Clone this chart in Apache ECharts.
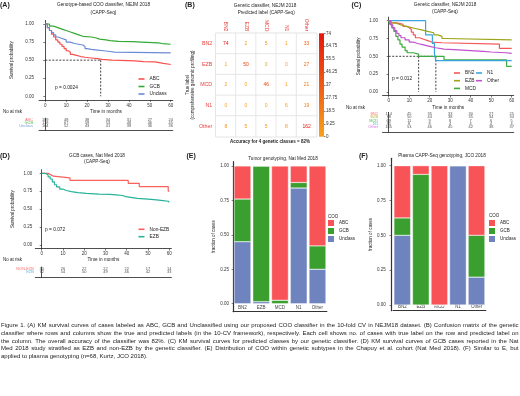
<!DOCTYPE html>
<html><head><meta charset="utf-8">
<script src="https://cdn.jsdelivr.net/npm/echarts@6/dist/echarts.min.js"></script>
<style>html,body{margin:0;padding:0;background:#fff}#c{width:520px;height:396px}</style>
</head><body><div id="c"></div>
<script>
// ================= DATA =================
const kmTicks = [0, 10, 20, 30, 40, 50, 60];
const survTicks = [0, 0.25, 0.5, 0.75, 1];
const riskTimes = [0, 10, 20, 30, 40, 50, 60];

// Panel A: COO classifier KM curves
const aGroups = ['ABC', 'GCB', 'Unclass'];
const aABC_t = [0,1,2,3,4,5,6,7,8,9,10,11,12,13,15,17,19,22,25,27,32,43,47,52.5,56.5,60];
const aABC_s = [1,0.95,0.91,0.86,0.82,0.78,0.75,0.72,0.69,0.66,0.63,0.61,0.58,0.565,0.55,0.54,0.53,0.52,0.51,0.50,0.49,0.48,0.475,0.455,0.44,0.44];
const aGCB_t = [0,2,4,6,8,10,12,14,16,18,22,24,26,29,31,35,42,46,54,56,60];
const aGCB_s = [1,0.97,0.95,0.93,0.91,0.89,0.87,0.85,0.83,0.82,0.81,0.79,0.78,0.77,0.76,0.755,0.75,0.74,0.73,0.72,0.72];
const aUnc_t = [0,1,2,3,4,5,6,8,10,12,14,16,18,19,20,22,25,28,31,33,60];
const aUnc_s = [1,0.95,0.91,0.88,0.85,0.82,0.80,0.78,0.75,0.73,0.72,0.71,0.69,0.66,0.65,0.64,0.63,0.62,0.61,0.60,0.60];
const aMedians = [26.5];
const aRiskABC = [189, 48, 38, 34, 31, 27, 24];
const aRiskGCB = [118, 67, 59, 53, 48, 46, 45];
const aRiskUnc = [164, 52, 43, 41, 39, 36, 36];

// Panel B: confusion matrix
const bLabels = ['BN2', 'EZB', 'MCD', 'N1', 'Other'];
const bMatrix = [
  [74, 2, 5, 1, 33],
  [1, 50, 0, 0, 27],
  [2, 0, 46, 1, 21],
  [0, 0, 0, 6, 19],
  [8, 5, 5, 8, 162]
];
const bScaleMin = 0, bScaleMax = 74, bScaleStep = 9.25;

// Panel C: genetic classifier KM curves
const cGroups = ['BN2', 'EZB', 'MCD', 'N1', 'Other'];
const cBN2_t = [0,1,4,7,9,10,11,12,13,15,17,19,21,26,54,60];
const cBN2_s = [1,0.97,0.95,0.92,0.90,0.88,0.84,0.80,0.76,0.74,0.72,0.70,0.69,0.67,0.61,0.61];
const cEZB_t = [0,1,3,5,7,10,13,16,19,22,24,26,28,60];
const cEZB_s = [1,0.97,0.95,0.93,0.91,0.89,0.87,0.85,0.83,0.80,0.78,0.75,0.73,0.73];
const cMCD_t = [0,0.5,1.5,2.5,3.5,4.5,5.5,6.5,8,9,12,14.6,27,57.5,60];
const cMCD_s = [1,0.95,0.90,0.85,0.78,0.73,0.67,0.63,0.58,0.55,0.53,0.50,0.45,0.36,0.36];
const cN1_t = [0,18,21.3,22.3,23,60];
const cN1_s = [1,0.80,0.68,0.54,0.44,0.44];
const cOth_t = [0,1,2,3,4,5,6,8,10,12,14,17,20,23,27,34,40,46,50,57,60];
const cOth_s = [1,0.94,0.90,0.86,0.82,0.79,0.76,0.73,0.70,0.68,0.66,0.64,0.62,0.60,0.59,0.58,0.57,0.56,0.55,0.54,0.54];
const cMedians = [14.6, 23];
const cRiskBN2 = [114, 45, 35, 33, 30, 27, 25];
const cRiskEZB = [78, 50, 44, 38, 35, 34, 34];
const cRiskMCD = [69, 11, 9, 8, 7, 6, 5];
const cRiskN1 = [35, 8, 8, 4, 4, 4, 4];
const cRiskOth = [185, 53, 46, 45, 42, 38, 37];

// Panel D: GCB cases KM curves
const dGroups = ['Non-EZB', 'EZB'];
const dRiskGroups = ['NON-EZB', 'EZB'];
const dNon_t = [0,3,4,5.5,13.3,40.7,45.9,59.5,60];
const dNon_s = [1,0.985,0.96,0.935,0.90,0.86,0.815,0.75,0.75];
const dEZB_t = [0,1.5,3,4,5,6,7,8.5,10,11.5,14,17,21,27,32,35,38,39.5,45,50,54,57,59.5,60];
const dEZB_s = [1,0.98,0.95,0.92,0.88,0.84,0.81,0.78,0.76,0.745,0.73,0.72,0.71,0.705,0.70,0.69,0.675,0.65,0.64,0.63,0.62,0.61,0.595,0.595];
const dRiskNon = [30, 26, 22, 22, 22, 17, 14];
const dRiskEZB = [72, 54, 50, 49, 46, 42, 33];

// Panels E and F: COO fraction per genetic subtype
const subtypes = ['BN2', 'EZB', 'MCD', 'N1', 'Other'];
const eUnclass = [0.45, 0.015, 0, 0.84, 0.25];
const eGCB = [0.31, 0.985, 0.025, 0.04, 0.17];
const eABC = [0.24, 0, 0.975, 0.12, 0.58];
const fUnclass = [0.5, 0, 0, 1, 0.2];
const fGCB = [0.125, 0.9375, 0, 0, 0.3];
const fABC = [0.375, 0.0625, 1, 0, 0.5];
const cooNames = ['ABC', 'GCB', 'Unclass'];

const captionLines = [
  'Figure 1. (A) KM survival curves of cases labeled as ABC, GCB and Unclassified using our proposed COO classifier in the 10-fold CV in NEJM18 dataset. (B) Confusion matrix of the genetic',
  'classifier where rows and columns show the true and predicted labels (in the 10-CV framework), respectively. Each cell shows no. of cases with true label on the row and predicted label on',
  'the column. The overall accuracy of the classifier was 82%. (C) KM survival curves for predicted classes by our genetic classifier. (D) KM survival curves of GCB cases reported in the Nat',
  'Med 2018 study stratified as EZB and non-EZB by the genetic classifier. (E) Distribution of COO within genetic subtypes in the Chapuy et al. cohort (Nat Med 2018). (F) Similar to E, but',
  'applied to plasma genotyping (n=68, Kurtz, JCO 2018).'
];

// ================= STYLE =================
const FONT = '"Liberation Sans", Arial, sans-serif';
const colA = { ABC: '#F8514F', GCB: '#33AA33', Unclass: '#6A8BD6' };
const colAlab = { ABC: '#FF6F6F', GCB: '#44BB44', Unclass: '#7C9BE2' };
const colC = { BN2: '#F5575A', EZB: '#9EA51A', MCD: '#3DAA3D', N1: '#3BA5E0', Other: '#C24FCC' };
const colClab = { BN2: '#FF7A7A', EZB: '#B5B52A', MCD: '#4CBB4C', N1: '#4DB4EA', Other: '#D06BDA' };
const colD = { 'Non-EZB': '#F8615D', 'EZB': '#27B39A' };
const colDlab = { 'NON-EZB': '#FF6F6F', 'EZB': '#5CB8E0' };
const colCOO = { ABC: '#F85457', GCB: '#3A9F2E', Unclass: '#6F83BF' };
const heatLow = '#F7A11A', heatHigh = '#E8150E';
const AX = '#222';

function heatColor(v) {
  const t = Math.max(0, Math.min(1, (v - bScaleMin) / (bScaleMax - bScaleMin)));
  const a = [0xF7, 0xA1, 0x1A], b = [0xE8, 0x15, 0x0E];
  const c = a.map((x, i) => Math.round(x + (b[i] - x) * t));
  return 'rgb(' + c.join(',') + ')';
}

// ================= LAYOUT =================
const grids = [
  { left: 39, top: 20.4, width: 133.8, height: 79.5 },      // 0 A plot
  { left: 39, top: 118.2, width: 133.8, height: 12 },       // 1 A risk
  { left: 215.7, top: 33.3, width: 101, height: 103.4, show: true, borderColor: '#d4d4d4', borderWidth: 0.8 }, // 2 B heat
  { left: 319, top: 33.3, width: 5, height: 103.4 },         // 3 B colorbar
  { left: 382.55, top: 17.1, width: 131.2, height: 78.4 },   // 4 C plot
  { left: 382.55, top: 112.35, width: 131.2, height: 19.8 }, // 5 C risk
  { left: 35.3, top: 169.7, width: 136.1, height: 78.9 },    // 6 D plot
  { left: 35.3, top: 267, width: 136.1, height: 10.2 },      // 7 D risk
  { left: 233.1, top: 161.7, width: 93.75, height: 150 },    // 8 E
  { left: 393.0, top: 158.3, width: 92.8, height: 152.4 }    // 9 F
].map(g => Object.assign({ containLabel: false, outerBoundsMode: 'none' }, g));

const tickFont = { fontSize: 4.5, color: '#333', fontFamily: FONT };

function kmX(gi, margin, nameGap) {
  return {
    type: 'value', gridIndex: gi, min: -3, max: 61,
    axisLine: { show: true, onZero: false, lineStyle: { color: AX, width: 0.8 } },
    axisTick: { show: true, length: 2, customValues: kmTicks, lineStyle: { color: AX, width: 0.6 } },
    axisLabel: Object.assign({ customValues: kmTicks, margin }, tickFont),
    splitLine: { show: false },
    name: 'Time in months', nameLocation: 'middle', nameGap,
    nameTextStyle: { fontSize: 4.7, color: '#222', fontFamily: FONT }
  };
}
function kmY(gi, margin, nameGap) {
  return {
    type: 'value', gridIndex: gi, min: -0.05, max: 1.05,
    axisLine: { show: true, lineStyle: { color: AX, width: 0.8 } },
    axisTick: { show: true, length: 2, customValues: survTicks, lineStyle: { color: AX, width: 0.6 } },
    axisLabel: Object.assign({ customValues: survTicks, margin, formatter: v => (+v).toFixed(2) }, tickFont),
    splitLine: { show: false },
    name: 'Survival probability', nameLocation: 'middle', nameGap,
    nameTextStyle: { fontSize: 4.5, color: '#222', fontFamily: FONT }
  };
}
function riskX(gi) {
  return {
    type: 'value', gridIndex: gi, min: -3, max: 61,
    axisLine: { show: true, onZero: false, lineStyle: { color: AX, width: 0.8 } },
    axisTick: { show: false }, axisLabel: { show: false }, splitLine: { show: false }
  };
}
function riskY(gi, groups, colors, margin) {
  return {
    type: 'category', gridIndex: gi, inverse: true,
    data: groups.map(g => ({ value: g, textStyle: { color: colors[g] } })).concat(['']),
    axisLine: { show: true, lineStyle: { color: AX, width: 0.8 } },
    axisTick: { show: false },
    axisLabel: { fontSize: 3.9, fontFamily: FONT, margin, interval: 0 },
    splitLine: { show: false }
  };
}
function fracY(gi, min, max, margin, nameGap, offset) {
  return {
    type: 'value', gridIndex: gi, min, max, offset: offset || 0,
    axisLine: { show: true, lineStyle: { color: '#333', width: 1.2 } },
    axisTick: { show: true, length: 1.5, customValues: survTicks, lineStyle: { color: '#333', width: 0.6 } },
    axisLabel: Object.assign({ customValues: survTicks, margin, formatter: v => (+v).toFixed(2) }, tickFont),
    splitLine: { show: false },
    name: 'fraction of cases', nameLocation: 'middle', nameGap,
    nameTextStyle: { fontSize: 4.5, color: '#222', fontFamily: FONT }
  };
}
function fracX(gi) {
  return {
    type: 'category', gridIndex: gi, data: subtypes,
    axisLine: { show: true, onZero: false, lineStyle: { color: '#333', width: 1.2 } },
    axisTick: { show: false },
    axisLabel: Object.assign({ inside: true, margin: 1, interval: 0 }, tickFont, { color: '#444' })
  };
}

const xAxis = [
  kmX(0, 3, 9),
  riskX(1),
  { type: 'category', gridIndex: 2, data: bLabels, position: 'top',
    axisLine: { show: false }, axisTick: { show: false },
    axisLabel: { rotate: 90, color: '#E8413C', fontSize: 5, fontFamily: FONT, margin: 2, interval: 0 },
    name: 'Predicted label (CAPP-Seq)', nameLocation: 'middle', nameGap: 17,
    nameTextStyle: { fontSize: 4.6, color: '#222', fontFamily: FONT } },
  { type: 'category', gridIndex: 3, data: ['scale'], show: false },
  kmX(4, 2.5, 9.8),
  riskX(5),
  kmX(6, 2.5, 9),
  riskX(7),
  fracX(8),
  fracX(9)
];
const yAxis = [
  kmY(0, 5, 25.2),
  riskY(1, aGroups, colAlab, 6),
  { type: 'category', gridIndex: 2, data: bLabels, inverse: true,
    axisLine: { show: false }, axisTick: { show: false },
    axisLabel: { color: '#E8413C', fontSize: 5.3, fontFamily: FONT, margin: 3.5, interval: 0 },
    name: 'True label\n(comprehensive genomic profiling)', nameLocation: 'middle', nameGap: 20,
    nameTextStyle: { fontSize: 4.5, color: '#222', fontFamily: FONT, lineHeight: 5 } },
  { type: 'value', gridIndex: 3, position: 'right', min: bScaleMin, max: bScaleMax, interval: bScaleStep,
    axisLine: { show: false },
    axisTick: { show: true, length: 1.5, lineStyle: { color: '#333', width: 0.6 } },
    axisLabel: { fontSize: 4.5, color: '#333', fontFamily: FONT, margin: 2 },
    splitLine: { show: false } },
  kmY(4, 4.5, 21.2),
  riskY(5, cGroups, colClab, 4.5),
  kmY(6, 3, 20.3),
  riskY(7, dRiskGroups, colDlab, 1.5),
  fracY(8, -0.058, 1.031, 4, 16.8, 0),
  fracY(9, -0.041, 1.053, 5.3, 13.7, 2)
];

// ================= SERIES =================
const series = [];
function km(gi, name, t, s, color) {
  series.push({ type: 'line', name, xAxisIndex: gi, yAxisIndex: gi, step: 'end', symbol: 'none',
    data: t.map((v, i) => [v, s[i]]), lineStyle: { width: 1.2, color }, itemStyle: { color },
    silent: true, z: 3 });
}
function dashed(gi, pts) {
  series.push({ type: 'line', xAxisIndex: gi, yAxisIndex: gi, symbol: 'none', data: pts,
    lineStyle: { type: [2, 1.5], width: 0.8, color: '#111' }, silent: true, z: 2 });
}
function risk(gi, groups, rows) {
  const data = [];
  groups.forEach((g, i) => rows[i].forEach((n, j) => data.push([riskTimes[j], g, n])));
  series.push({ type: 'scatter', xAxisIndex: gi, yAxisIndex: gi, symbolSize: 0, data, silent: true,
    label: { show: true, position: 'inside', formatter: p => String(p.value[2]), fontSize: 3.9, color: '#222', fontFamily: FONT } });
}
function medianLines(gi, medians) {
  const mx = Math.max.apply(null, medians);
  dashed(gi, [[0, 0.5], [mx, 0.5]]);
  medians.forEach(m => dashed(gi, [[m, 0.5], [m, 0]]));
}

// A
medianLines(0, aMedians);
km(0, 'ABC', aABC_t, aABC_s, colA.ABC);
km(0, 'GCB', aGCB_t, aGCB_s, colA.GCB);
km(0, 'Unclass', aUnc_t, aUnc_s, colA.Unclass);
risk(1, aGroups, [aRiskABC, aRiskGCB, aRiskUnc]);

// B
const heatData = [];
bMatrix.forEach((row, r) => row.forEach((v, c) => heatData.push({ value: [c, r, v], label: { color: heatColor(v) } })));
series.push({ type: 'heatmap', xAxisIndex: 2, yAxisIndex: 2, data: heatData, silent: true,
  itemStyle: { color: '#ffffff', borderColor: '#e2e2e2', borderWidth: 0.8 },
  label: { show: true, formatter: p => String(p.value[2]), fontSize: 5, fontFamily: FONT } });
series.push({ type: 'bar', xAxisIndex: 3, yAxisIndex: 3, data: [bScaleMax], barWidth: '100%', silent: true,
  itemStyle: { color: new echarts.graphic.LinearGradient(0, 0, 0, 1, [{ offset: 0, color: heatHigh }, { offset: 1, color: heatLow }]) } });

// C
medianLines(4, cMedians);
km(4, 'BN2', cBN2_t, cBN2_s, colC.BN2);
km(4, 'EZB', cEZB_t, cEZB_s, colC.EZB);
km(4, 'MCD', cMCD_t, cMCD_s, colC.MCD);
km(4, 'N1', cN1_t, cN1_s, colC.N1);
km(4, 'Other', cOth_t, cOth_s, colC.Other);
risk(5, cGroups, [cRiskBN2, cRiskEZB, cRiskMCD, cRiskN1, cRiskOth]);

// D
km(6, 'Non-EZB', dNon_t, dNon_s, colD['Non-EZB']);
km(6, 'EZB ', dEZB_t, dEZB_s, colD.EZB);
risk(7, dRiskGroups, [dRiskNon, dRiskEZB]);

// E, F
function bars(gi, stack, unc, gcb, abc) {
  [['Unclass', unc], ['GCB', gcb], ['ABC', abc]].forEach(([n, d]) => series.push({
    type: 'bar', name: n, xAxisIndex: gi, yAxisIndex: gi, stack, data: d, barWidth: '90%', silent: true,
    itemStyle: { color: colCOO[n], borderColor: '#fff', borderWidth: 0.4 } }));
}
bars(8, 'E', eUnclass, eGCB, eABC);
bars(9, 'F', fUnclass, fGCB, fABC);

// ================= LEGENDS =================
const legTxt = { fontSize: 4.8, fontFamily: FONT, color: '#222', lineHeight: 5 };
function lineLegend(left, top, names, colors, gap) {
  return { left, top, orient: 'vertical', padding: 0, selectedMode: false, icon: 'rect',
    itemWidth: 6, itemHeight: 1.6, itemGap: gap, textStyle: legTxt,
    data: names.map(n => ({ name: n, itemStyle: { color: colors[n.trim()] } })) };
}
function fillLegend(left, top) {
  return { left, top, orient: 'vertical', padding: 0, selectedMode: false, icon: 'rect',
    itemWidth: 6, itemHeight: 6, itemGap: 2, textStyle: Object.assign({}, legTxt, { fontSize: 4.5 }),
    data: cooNames.map(n => ({ name: n, itemStyle: { color: colCOO[n] } })) };
}
const legend = [
  lineLegend(138.5, 76.5, aGroups, colA, 2.5),
  lineLegend(454, 70.5, ['BN2', 'EZB', 'MCD'], colC, 2.7),
  lineLegend(476, 70.5, ['N1', 'Other'], colC, 2.7),
  lineLegend(138.5, 226.8, ['Non-EZB', 'EZB '], colD, 2.4),
  fillLegend(328, 220),
  fillLegend(489, 220)
];

// ================= TEXT =================
function txt(x, y, text, o) {
  o = o || {};
  const al = o.align || 'left';
  return { type: 'text', x, y, silent: true, z: 10,
    style: { text, fontSize: o.size || 4.7, fontFamily: FONT, fontWeight: o.weight || 'normal', fill: o.fill || '#222',
      align: al, textAlign: al, verticalAlign: 'middle', textVerticalAlign: 'middle' } };
}
const elements = [
  txt(0, 5.5, '(A)', { size: 7, weight: 'bold' }),
  txt(185, 5.5, '(B)', { size: 7, weight: 'bold' }),
  txt(351.5, 5.5, '(C)', { size: 7, weight: 'bold' }),
  txt(0, 156, '(D)', { size: 7, weight: 'bold' }),
  txt(186.5, 156, '(E)', { size: 7, weight: 'bold' }),
  txt(359, 156, '(F)', { size: 7, weight: 'bold' }),
  txt(103.5, 5.2, 'Genotype-based COO classifier, NEJM 2018', { align: 'center' }),
  txt(103.5, 12.3, '(CAPP-Seq)', { align: 'center' }),
  txt(265, 5.3, 'Genetic classifier, NEJM 2018', { align: 'center' }),
  txt(445, 5, 'Genetic classifier, NEJM 2018', { align: 'center' }),
  txt(445, 11.7, '(CAPP-Seq)', { align: 'center' }),
  txt(97, 156, 'GCB cases, Nat Med 2018', { align: 'center' }),
  txt(97, 161.5, '(CAPP-Seq)', { align: 'center' }),
  txt(283, 159, 'Tumor genotyping, Nat Med 2018', { align: 'center' }),
  txt(442, 156, 'Plasma CAPP-Seq genotyping, JCO 2018', { align: 'center' }),
  txt(55, 87.7, 'p = 0.0024', { size: 4.8 }),
  txt(392, 79, 'p = 0.012', { size: 4.8 }),
  txt(45, 230, 'p = 0.072', { size: 4.8 }),
  txt(3, 111.7, 'No at risk', { size: 4.5 }),
  txt(346, 107.7, 'No at risk', { size: 4.5 }),
  txt(3, 260, 'No at risk', { size: 4.5 }),
  txt(270, 141.7, 'Accuracy for 4 genetic classes = 82%', { align: 'center', weight: 'bold', size: 4.5 }),
  txt(328, 216.5, 'COO', { size: 4.5 }),
  txt(489, 216, 'COO', { size: 4.5 })
];

// caption, justified like the original
(function () {
  const ctx = document.createElement('canvas').getContext('2d');
  const x0 = 1, x1 = 518.5, W = x1 - x0, y0 = 325.7, dy = 7.6;
  ctx.font = '10px ' + FONT;
  let maxW = 0;
  captionLines.forEach(l => { maxW = Math.max(maxW, ctx.measureText(l).width); });
  const fs = Math.min(6, W / maxW * 10 * 0.985);
  ctx.font = fs + 'px ' + FONT;
  const sp = ctx.measureText(' ').width;
  captionLines.forEach((line, i) => {
    const words = line.split(' ');
    const ww = words.map(w => ctx.measureText(w).width);
    const sum = ww.reduce((a, b) => a + b, 0);
    const last = i === captionLines.length - 1;
    const gap = last ? sp : (W - sum) / (words.length - 1);
    let x = x0;
    words.forEach((w, j) => {
      elements.push(txt(x, y0 + i * dy, w, { size: fs }));
      x += ww[j] + gap;
    });
  });
})();

const chart = echarts.init(document.getElementById('c'), null, { renderer: 'canvas' });
chart.setOption({
  animation: false,
  textStyle: { fontFamily: FONT },
  grid: grids, xAxis, yAxis, series, legend,
  graphic: { elements }
});
</script>
</body></html>
